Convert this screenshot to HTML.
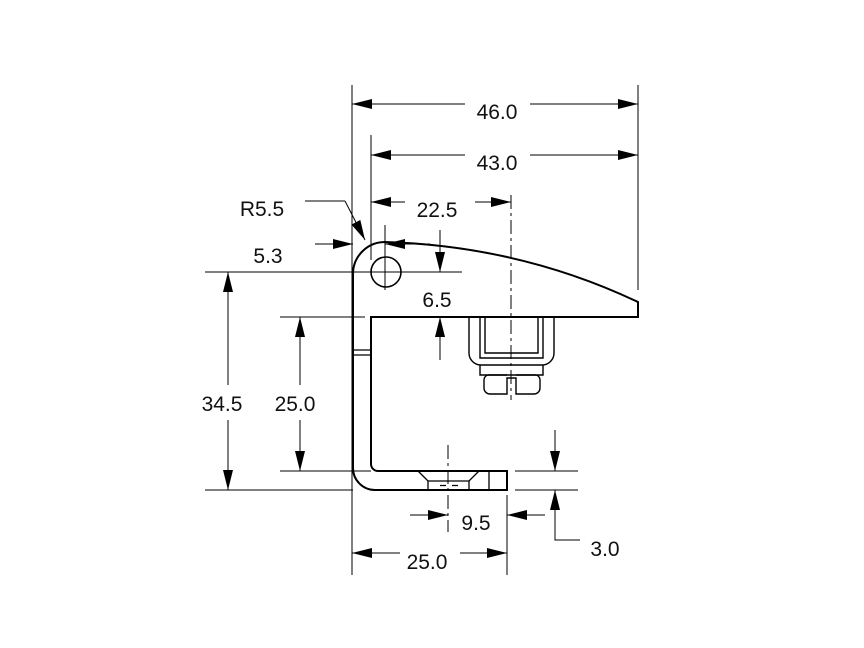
<!DOCTYPE html><html><head><style>body{margin:0;background:#fff}svg{display:block}text{font-family:"Liberation Sans",sans-serif;font-size:21px;fill:#111;text-anchor:middle}</style></head><body>
<svg width="864" height="648" viewBox="0 0 864 648" xmlns="http://www.w3.org/2000/svg">
<defs><marker id="a" viewBox="0 0 10 10" refX="10" refY="5" markerWidth="20" markerHeight="10" markerUnits="userSpaceOnUse" orient="auto" preserveAspectRatio="none"><path d="M0,0L10,5L0,10z" fill="#000"/></marker></defs>
<g fill="none" stroke="#000" stroke-width="2">
<path d="M353,468 V274 A32,32 0 0 1 385,242 Q520,246 638,302 V317 H371 V464 A7,7 0 0 0 378,471 H507 V490 H375 A22,22 0 0 1 353,468"/>
<path d="M489,471V490M418,471L428,481H469L479,471" stroke-width="1.3"/>
<path d="M428,481V490M469,481V490M440,485.5h6M452,485.5h6" stroke-width="1.3"/>
<path d="M353,350H371M353,355H371" stroke-width="1.3"/>
<circle cx="386" cy="272" r="15" stroke-width="1.6"/>
<path d="M469,317V353A12,12 0 0 0 481,365H542A12,12 0 0 0 554,353V317M480,317V358H543V317M485,317V353H538V317M480,365V375H543V365" stroke-width="1.4"/>
<path d="M507,375H488A5,5 0 0 0 484,380V388A6,6 0 0 0 490,394H507V378H516V394H534A6,6 0 0 0 540,388V380A5,5 0 0 0 536,375H516" stroke-width="1.4"/>
</g>
<g fill="none" stroke="#000" stroke-width="1">
<path d="M511,195V400" stroke-dasharray="14,4,3,4"/>
<path d="M448,445V532" stroke-dasharray="14,4,3,4"/>
<path d="M352,85V575M638,85V290M371,135V260M385,225V290M360,272H462M205,272H375M205,490H353M280,317H365M280,471H371M515,471H578M515,490H578M507,495V575M555,505V540H580M305,201H345"/>
</g>
<g fill="none" stroke="#000" stroke-width="1" marker-end="url(#a)">
<path d="M465,104H352"/><path d="M530,104H638"/>
<path d="M465,155H371"/><path d="M530,155H638"/>
<path d="M405,202H371"/><path d="M475,202H511"/>
<path d="M315,244H353"/><path d="M430,244H385"/>
<path d="M440,230V272"/><path d="M440,360V317"/>
<path d="M228,385V272"/><path d="M228,420V490"/>
<path d="M300,385V317"/><path d="M300,420V471"/>
<path d="M555,430V471"/><path d="M555,530V490"/>
<path d="M410,515H448"/><path d="M545,515H507"/>
<path d="M400,553H352"/><path d="M460,553H507"/>
<path d="M345,201L365,240"/>
</g>
<text x="497" y="119">46.0</text>
<text x="497" y="170">43.0</text>
<text x="437" y="217">22.5</text>
<text x="262" y="216">R5.5</text>
<text x="268" y="263">5.3</text>
<text x="437" y="307">6.5</text>
<text x="222" y="411">34.5</text>
<text x="295" y="411">25.0</text>
<text x="476" y="530">9.5</text>
<text x="605" y="556">3.0</text>
<text x="427" y="569">25.0</text>
</svg></body></html>
